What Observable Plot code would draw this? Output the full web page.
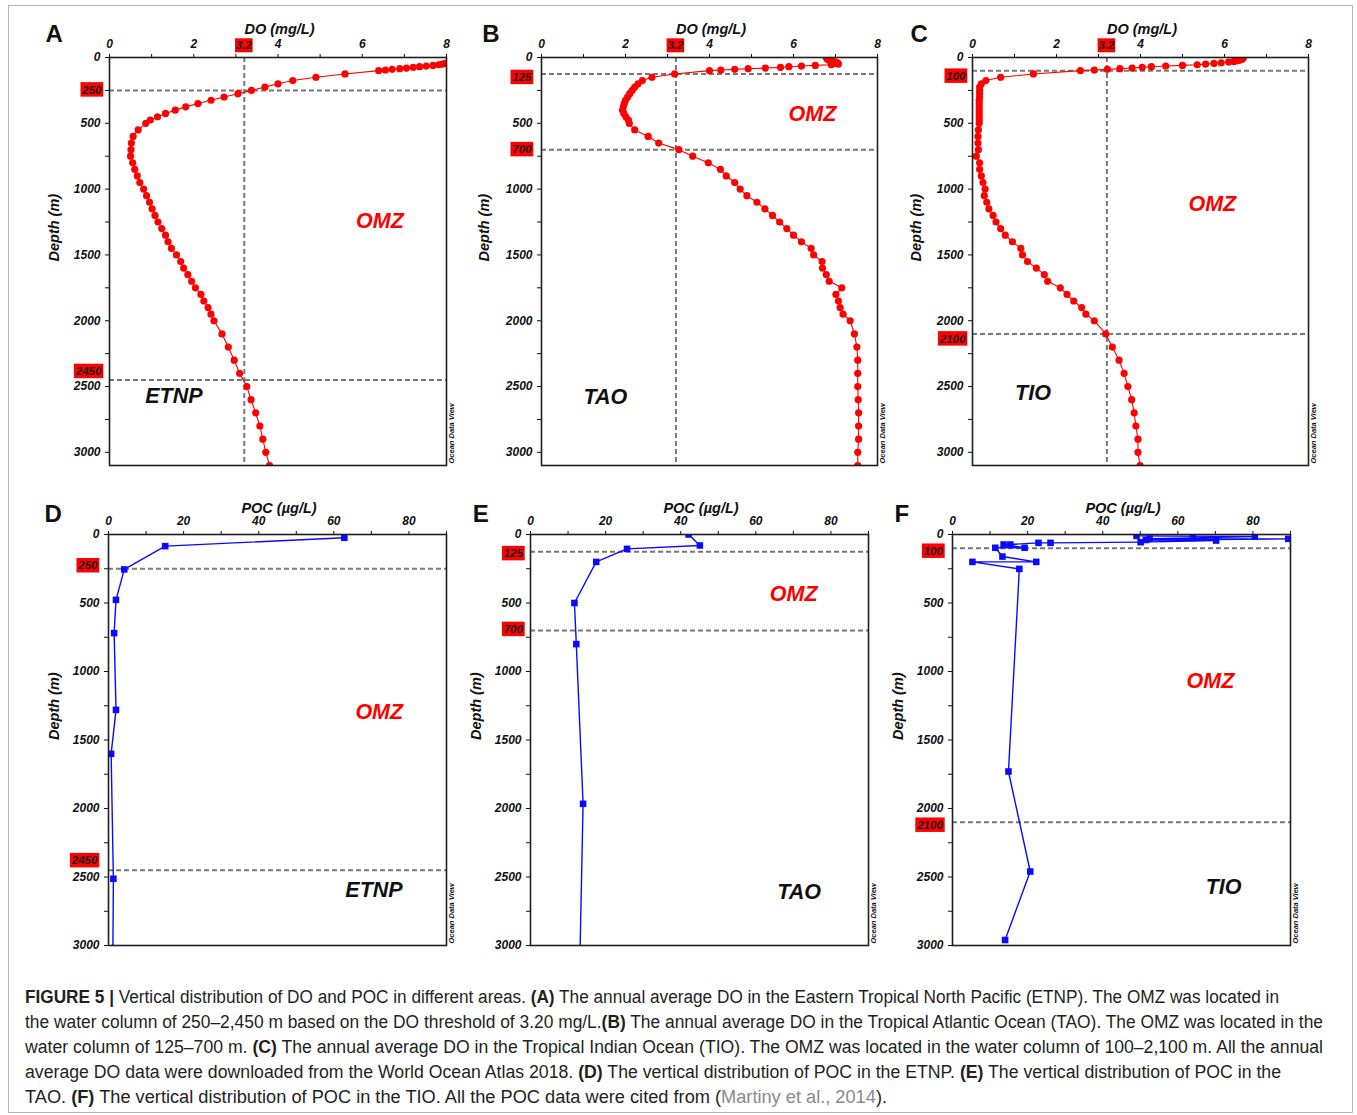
<!DOCTYPE html>
<html><head><meta charset="utf-8">
<script src="https://cdn.jsdelivr.net/npm/d3@7"></script>
<script src="https://cdn.jsdelivr.net/npm/@observablehq/plot@0.6"></script>
<style>
html,body{margin:0;padding:0;background:#fff;}
#page{position:relative;width:1357px;height:1115px;overflow:hidden;background:#fff;}
.panel{position:absolute;}
#border{position:absolute;left:8px;top:5px;width:1345px;height:1108px;border:1px solid #b5b5b5;box-sizing:border-box;}
.cap{position:absolute;left:25px;white-space:nowrap;font-family:"Liberation Sans",Arial,sans-serif;font-size:18px;line-height:20px;color:#231f20;transform-origin:0 50%;}
.cap b{font-weight:bold;}
.cite{color:#8a8a8a;}
</style></head><body><div id="page"><div id="border"></div></div>
<script>
// ---------------- data ----------------
// (A) ETNP annual average DO (mg/L) vs depth (m)
const etnpDoDepth = [45,50,55,60,65,70,75,80,85,90,95,100,125,150,175,200,225,250,275,300,325,350,375,400,425,450,475,500,550,600,650,700,750,800,850,900,950,1000,1050,1100,1150,1200,1250,1300,1350,1400,1450,1500,1550,1600,1650,1700,1750,1800,1850,1900,1950,2000,2100,2200,2300,2400,2500,2600,2700,2800,2900,3000,3100];
const etnpDo = [7.97,7.90,7.82,7.68,7.52,7.36,7.21,7.05,6.89,6.71,6.55,6.39,5.59,4.90,4.35,4.00,3.69,3.37,3.05,2.72,2.41,2.10,1.81,1.56,1.33,1.14,0.97,0.86,0.68,0.56,0.52,0.51,0.50,0.55,0.60,0.66,0.72,0.81,0.88,0.95,1.01,1.08,1.15,1.24,1.33,1.39,1.47,1.59,1.69,1.76,1.86,1.95,2.04,2.17,2.24,2.34,2.41,2.48,2.67,2.82,2.96,3.09,3.26,3.36,3.47,3.57,3.64,3.71,3.80];
// (B) TAO annual average DO
const taoDoDepth = [0,5,10,15,20,25,30,35,40,45,50,55,60,65,70,75,80,85,90,95,100,125,150,175,200,225,250,275,300,325,350,375,400,425,450,475,500,550,600,650,700,750,800,850,900,950,1000,1050,1100,1150,1200,1250,1300,1350,1400,1450,1500,1550,1600,1650,1700,1750,1800,1850,1900,1950,2000,2100,2200,2300,2400,2500,2600,2700,2800,2900,3000,3100];
const taoDo = [6.78,6.80,6.80,6.82,6.85,6.90,6.95,7.00,7.05,7.00,7.07,6.90,6.52,6.19,5.89,5.69,5.33,4.92,4.60,4.27,4.00,3.17,2.63,2.40,2.30,2.22,2.16,2.10,2.05,2.00,1.97,1.95,1.93,1.96,2.01,2.07,2.09,2.22,2.54,2.79,3.27,3.60,3.97,4.26,4.40,4.60,4.73,4.89,5.13,5.32,5.50,5.67,5.84,6.00,6.19,6.42,6.48,6.68,6.69,6.78,6.85,7.15,7.01,7.07,7.11,7.18,7.35,7.45,7.51,7.53,7.53,7.53,7.54,7.55,7.55,7.55,7.53,7.53];
// (C) TIO annual average DO
const tioDoDepth = [0,5,10,15,20,25,30,35,40,45,50,55,60,65,70,75,80,85,90,95,100,125,150,175,200,225,250,275,300,325,350,375,400,425,450,475,500,550,600,650,700,750,800,850,900,950,1000,1050,1100,1150,1200,1250,1300,1350,1400,1450,1500,1550,1600,1650,1700,1750,1800,1850,1900,1950,2000,2100,2200,2300,2400,2500,2600,2700,2800,2900,3000,3100];
const tioDo = [6.45,6.44,6.43,6.40,6.35,6.30,6.22,6.10,5.92,5.75,5.55,5.35,5.00,4.60,4.26,4.04,3.80,3.51,3.21,2.90,2.57,1.45,0.67,0.32,0.21,0.17,0.17,0.17,0.17,0.16,0.16,0.16,0.16,0.16,0.16,0.16,0.16,0.14,0.13,0.13,0.14,0.09,0.17,0.17,0.21,0.25,0.30,0.28,0.34,0.39,0.49,0.56,0.67,0.78,0.95,1.15,1.19,1.31,1.52,1.71,1.79,2.09,2.25,2.41,2.60,2.70,2.90,3.17,3.33,3.49,3.61,3.70,3.79,3.85,3.89,3.94,3.94,3.99];
// (D) ETNP POC (ug/L)
const etnpPocDepth = [24,85,255,477,720,1280,1601,2513,3300];
const etnpPoc = [62.8,15.1,4.2,2.0,1.5,2.0,0.7,1.3,1.1];
// (E) TAO POC
const taoPocDepth = [0,80,105,200,500,800,1966,3300];
const taoPoc = [42.1,45.1,25.7,17.5,11.7,12.2,14.0,13.0];
// (F) TIO POC
const tioPocDepth = [10,15,25,30,32,40,44,56,61,61,73,73,97,97,161,200,200,251,1730,2460,2960];
const tioPoc = [49.0,80.5,64.0,52.5,89.4,51.5,70.2,50.1,26.1,22.9,15.4,13.6,19.2,11.4,13.3,22.3,5.3,17.8,14.9,20.7,14.0];
// OMZ boundaries (m) and DO threshold (mg/L)
const etnpOmz = [250, 2450];
const taoOmz = [125, 700];
const tioOmz = [100, 2100];
const doThreshold = 3.2;
// axis ticks
const doTicks = [0,1,2,3,4,5,6,7,8];
const pocTicks = [0,10,20,30,40,50,60,70,80,90];
const depthTicks = [0,250,500,750,1000,1250,1500,1750,2000,2250,2500,2750,3000];

// ---------------- layout ----------------
const panels = [
  {key:"A", kind:"DO", depth:etnpDoDepth, value:etnpDo, omz:etnpOmz, region:"ETNP", L:109,T:57,R:446,B:465, ymax:3100, letterDx:-64, letterDy:-15.3, depthDx:-55, boxOff:[-0.5,-8.5], boxGap:5.7, omzAt:[6.42,1297], regionAt:[1.53,2627]},
  {key:"B", kind:"DO", depth:taoDoDepth, value:taoDo, omz:taoOmz, region:"TAO", L:541,T:57,R:877,B:465, ymax:3100, letterDx:-59.3, letterDy:-15.3, depthDx:-57, boxOff:[3.5,0], boxGap:7.7, omzAt:[6.45,479], regionAt:[1.52,2631]},
  {key:"C", kind:"DO", depth:tioDoDepth, value:tioDo, omz:tioOmz, region:"TIO", L:972,T:57,R:1308,B:465, ymax:3100, letterDx:-62, letterDy:-15.3, depthDx:-56, boxOff:[5.5,5], boxGap:4.7, omzAt:[5.71,1168], regionAt:[1.44,2606]},
  {key:"D", kind:"POC", depth:etnpPocDepth, value:etnpPoc, omz:etnpOmz, region:"ETNP", L:108,T:534,R:446,B:945, ymax:3000, letterDx:-64, letterDy:-12.3, depthDx:-54, boxOff:[-3,-9.5], boxGap:8.7, omzAt:[72.1,1350], regionAt:[70.7,2647]},
  {key:"E", kind:"POC", depth:taoPocDepth, value:taoPoc, omz:taoOmz, region:"TAO", L:530,T:534,R:868,B:945, ymax:3000, letterDx:-57.7, letterDy:-12.3, depthDx:-54, boxOff:[2,-1], boxGap:5.3, omzAt:[70.1,482], regionAt:[71.5,2664]},
  {key:"F", kind:"POC", depth:tioPocDepth, value:tioPoc, omz:tioOmz, region:"TIO", L:952,T:534,R:1290,B:945, ymax:3000, letterDx:-58, letterDy:-12.3, depthDx:-54, boxOff:[3,3], boxGap:7.3, omzAt:[68.7,1122], regionAt:[72.2,2623]}
];

const FONT = "'Liberation Sans', Arial, Helvetica, sans-serif";
const ml = 75, mt = 48, mr = 22, mb = 10;

function labelBoxes(p, isDO) {
  return (index, scales, values, dims) => {
    const g = d3.create("svg:g")
      .attr("font-size", 11.5).attr("font-weight", "bold").attr("font-style", "italic")
      .attr("font-family", FONT);
    p.omz.forEach((v, i) => {
      const cy = scales.y(v) + p.boxOff[i];
      const label = String(v);
      const w = 6.6 * label.length + 3, h = 14.5;
      const xr = dims.marginLeft - p.boxGap;
      g.append("rect").attr("x", xr - w).attr("y", cy - h / 2).attr("width", w).attr("height", h).attr("fill", "#ff0000");
      g.append("text").attr("x", xr - w / 2).attr("y", cy).attr("dy", "0.36em")
        .attr("text-anchor", "middle").attr("fill", "#1a1a1a").text(label);
    });
    if (isDO) {
      const cx = scales.x(doThreshold), cy = dims.marginTop - 11.7;
      const w = 17.6, h = 14;
      g.append("rect").attr("x", cx - w / 2).attr("y", cy - h / 2).attr("width", w).attr("height", h).attr("fill", "#ff0000");
      g.append("text").attr("x", cx).attr("y", cy).attr("dy", "0.36em")
        .attr("text-anchor", "middle").attr("fill", "#1a1a1a").text(String(doThreshold));
    }
    return g.node();
  };
}

const page = document.getElementById("page");

for (const p of panels) {
  const isDO = p.kind === "DO";
  const color = isDO ? "#ff0000" : "#0a0aff";
  const data = p.depth.map((d, i) => ({depth: d, value: p.value[i]}));
  const width = p.R - p.L + ml + mr, height = p.B - p.T + mt + mb;
  const dash = {stroke: "#777777", strokeWidth: 2, strokeDasharray: "5,3"};
  const marks = [
    Plot.ruleY(p.omz, dash),
    isDO ? Plot.ruleX([doThreshold], dash) : null,
    Plot.line(data, {x: "value", y: "depth", stroke: color, strokeWidth: isDO ? 1.1 : 1.4, clip: true}),
    Plot.dot(data, {x: "value", y: "depth", r: isDO ? 3.6 : 3.7, fill: color, stroke: "none", symbol: isDO ? "circle" : "square", clip: true}),
    Plot.frame({stroke: "#1e1e1e", strokeWidth: 1.6}),
    Plot.text(["OMZ"], {x: () => p.omzAt[0], y: () => p.omzAt[1], text: d => d, fill: "#ff0000", fontSize: 21.5, fontWeight: "bold", fontStyle: "italic", lineAnchor: "bottom"}),
    Plot.text([p.region], {x: () => p.regionAt[0], y: () => p.regionAt[1], text: d => d, fill: "#111", fontSize: 21.5, fontWeight: "bold", fontStyle: "italic", lineAnchor: "bottom"}),
    Plot.text([isDO ? "DO (mg/L)" : "POC (µg/L)"], {frameAnchor: "top", dx: 1.5, dy: isDO ? -23.4 : -21.7, text: d => d, fontSize: 14.5, fontWeight: "bold", fontStyle: "italic", lineAnchor: "bottom"}),
    Plot.text(["Depth (m)"], {frameAnchor: "left", dx: p.depthDx, rotate: -90, text: d => d, fontSize: 14.5, fontWeight: "bold", fontStyle: "italic"}),
    Plot.text([p.key], {frameAnchor: "top-left", dx: p.letterDx, dy: p.letterDy, text: d => d, fontSize: 24, fontWeight: "bold", fontStyle: "normal", textAnchor: "start", lineAnchor: "bottom"}),
    Plot.text(["Ocean Data View"], {frameAnchor: "bottom-right", dx: 7, dy: -2, rotate: -90, text: d => d, fontSize: 7.5, fontWeight: "bold", fontStyle: "italic", textAnchor: "start"}),
    labelBoxes(p, isDO)
  ].filter(Boolean);

  const chart = Plot.plot({
    width, height,
    marginLeft: ml, marginTop: mt, marginRight: mr, marginBottom: mb,
    style: {fontFamily: FONT, fontSize: "12px", fontWeight: "bold", fontStyle: "italic", color: "#111", background: "none", overflow: "visible"},
    x: {domain: isDO ? [0, 8] : [0, 90], axis: "top", ticks: isDO ? doTicks : pocTicks,
        tickFormat: d => (isDO ? d % 2 : d % 20 || d > 80) ? "" : String(d), tickSize: 4, tickPadding: 6, label: null},
    y: {domain: [0, p.ymax], reverse: true, ticks: depthTicks,
        tickFormat: d => d % 500 ? "" : String(d), tickSize: 4, tickPadding: 5, label: null},
    marks
  });
  chart.classList.add("panel");
  chart.style.left = (p.L - ml) + "px";
  chart.style.top = (p.T - mt) + "px";
  page.appendChild(chart);
}

// ---------------- caption ----------------
const captionLines = [
  '<b>FIGURE 5 |</b> Vertical distribution of DO and POC in different areas. <b>(A)</b> The annual average DO in the Eastern Tropical North Pacific (ETNP). The OMZ was located in',
  'the water column of 250–2,450 m based on the DO threshold of 3.20 mg/L.<b>(B)</b> The annual average DO in the Tropical Atlantic Ocean (TAO). The OMZ was located in the',
  'water column of 125–700 m. <b>(C)</b> The annual average DO in the Tropical Indian Ocean (TIO). The OMZ was located in the water column of 100–2,100 m. All the annual',
  'average DO data were downloaded from the World Ocean Atlas 2018. <b>(D)</b> The vertical distribution of POC in the ETNP. <b>(E)</b> The vertical distribution of POC in the',
  'TAO. <b>(F)</b> The vertical distribution of POC in the TIO. All the POC data were cited from (<span class="cite">Martiny et al., 2014</span>).'
];
const captionWidths = [1254, 1298, 1298, 1256, 862];
captionLines.forEach((html, i) => {
  const el = document.createElement("div");
  el.className = "cap";
  el.innerHTML = html;
  el.style.top = (987 + 25 * i) + "px";
  page.appendChild(el);
  const w = el.getBoundingClientRect().width;
  el.style.transform = "scaleX(" + (captionWidths[i] / w) + ")";
});
</script></body></html>
